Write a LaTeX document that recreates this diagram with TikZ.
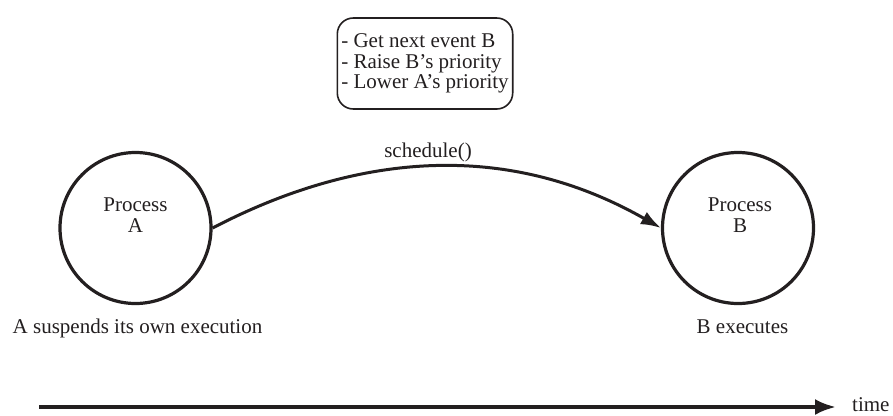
\documentclass[tikz,border=0pt]{standalone}
\usepackage{fontspec}
\setmainfont{Liberation Serif}
\usetikzlibrary{arrows.meta}
\definecolor{ink}{RGB}{35,31,32}
\begin{document}
\begin{tikzpicture}[x=1pt,y=-1pt,
  every node/.style={font=\fontsize{21}{20.5}\selectfont, text=ink},
  proc/.style={circle, draw=ink, line width=3.2pt, minimum size=151pt, inner sep=0pt},
  notebox/.style={draw=ink, line width=1.6pt, rounded corners=16pt,
    minimum width=172pt, minimum height=91pt, align=left, inner sep=4pt},
  caption/.style={inner sep=0pt, align=center},
  flow/.style={draw=ink, line width=3pt, -{Latex[length=20pt,width=14pt]}},
  timeline/.style={draw=ink, line width=3.8pt, -{Latex[length=21pt,width=16pt]}}
]
\useasboundingbox (0,0) rectangle (893,415);

% list of steps performed by the scheduler
\node[notebox] (steps) at (425,63.5) {- Get next event B\\- Raise B's priority\\- Lower A's priority};

% the two processes
\node[proc] (A) at (135.5,228) {};
\node[caption] (Aname) at (135.5,215) {Process\\A};
\node[proc] (B) at (738,228) {};
\node[caption] (Bname) at (740,215) {Process\\B};

% context switch
\draw[flow] (A.east) .. controls (320,172) and (480,125) .. (B.west);
\node[caption, anchor=base] (sched) at (428,157) {schedule()};

% what happens on each side
\node[caption, anchor=base] (Adesc) at (137.5,333) {A suspends its own execution};
\node[caption, anchor=base] (Bdesc) at (742.5,333) {B executes};

% time axis
\coordinate (t0) at (39,407);
\coordinate (t1) at (836,407);
\draw[timeline] (t0) -- (t1);
\node[caption, anchor=base west] (tlabel) at (852,411) {time};
\end{tikzpicture}
\end{document}
